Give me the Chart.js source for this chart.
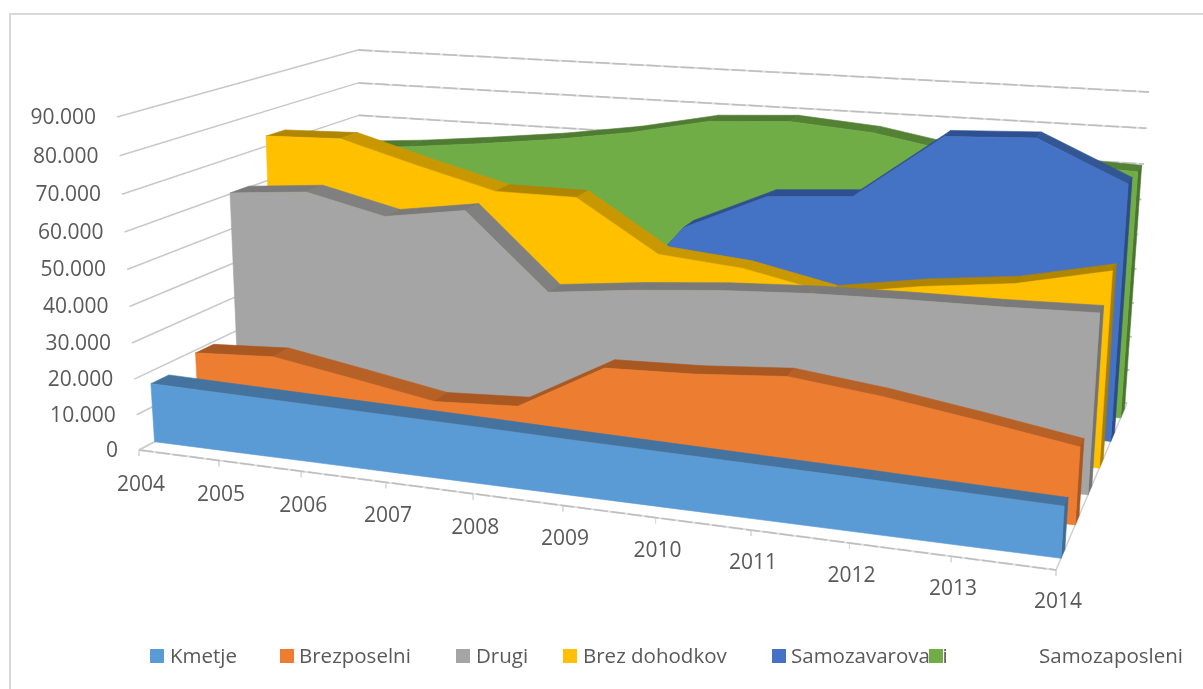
<!DOCTYPE html>
<html>
<head>
<meta charset="utf-8">
<title>Zavarovanci</title>
<script src="https://cdn.jsdelivr.net/npm/chart.js"></script>
<style>
    html, body { margin: 0; padding: 0; background: #fff; }
    #wrap { position: relative; width: 1203px; height: 689px; }
</style>
</head>
<body>
<div id="wrap"><canvas id="myChart" width="1203" height="689"></canvas></div>
<script>
// Data
const categories = ["2004","2005","2006","2007","2008","2009","2010","2011","2012","2013","2014"];
const yTicks = [0,10000,20000,30000,40000,50000,60000,70000,80000,90000];
const yTickLabels = ["0","10.000","20.000","30.000","40.000","50.000","60.000","70.000","80.000","90.000"];
const seriesNames = ["Kmetje","Brezposelni","Drugi","Brez dohodkov","Samozavarovani","Samozaposleni"];

const kmetje = [16600,16300,16000,15700,15400,15000,14700,14400,14100,13700,13300];
const brezposelni = [19200,20600,16900,13000,14400,27600,28600,30600,28000,24400,20500];
const drugi = [60300,62400,57400,61000,40300,43100,45300,46700,47400,47800,48600];
const brezDohodkov = [72900,73700,67700,62100,62200,48100,46200,41400,45500,48500,54100];
const samozavarovani = [21000,21500,22000,22500,22600,50700,61400,63200,81400,82600,72000];
const samozaposleni = [62200,64000,66400,69100,72600,77300,78700,77000,72900,71600,70800];

// Colours: front, top going down, top going up, end of each ribbon
const frontColors = ["#5B9BD5","#ED7D31","#A5A5A5","#FFC000","#4472C4","#70AD47"];
const topColors = ["#44739F","#B86126","#808080","#C99800","#335694","#548235"];
const topUpColors = ["#44739F","#A85820","#7A7A7A","#B08500","#2F5090","#4F7B32"];
const sideColors = ["#3F6C95","#A85820","#737373","#A87F00","#2C4C85","#4A7530"];

// Where each ribbon starts in the depth of the box (0 front, 1 back), and how deep it is
const depthFront = [0.07,0.27,0.45,0.61,0.77,0.91];
const thickLeft = 0.08, thickRight = 0.055;

// The box corners on the page
const floorFL = [139,450], floorFR = [1056,570], floorBL = [361,332], floorBR = [1127,403];
const ceilFL = [117,117], ceilFR = [1079,196], ceilBL = [358,50], ceilBR = [1149,92];

const yMax = 90000;

// perspective squeeze along an edge
function warp(t, k) {
    return t * (1 + k) / (1 + k * t);
}
function mix(a, b, t) {
    return [a[0] + (b[0] - a[0]) * t, a[1] + (b[1] - a[1]) * t];
}
// category index + value + depth --> point on the page
function project(i, value, depth) {
    var u = warp(i / (categories.length - 1), -0.14);
    var t = warp(value / yMax, -0.053);
    var floorPoint = mix(mix(floorFL, floorFR, u), mix(floorBL, floorBR, u), depth);
    var ceilPoint = mix(mix(ceilFL, ceilFR, u), mix(ceilBL, ceilBR, u), depth);
    var p = mix(floorPoint, ceilPoint, t);
    return { x: p[0], y: p[1] };
}
// back edge of a ribbon gets thinner to the right
function depthBack(s, i) {
    return depthFront[s] + thickLeft + (thickRight - thickLeft) * i / (categories.length - 1);
}

function face(points, color) {
    points.push(points[0]);
    return {
        data: points,
        showLine: true,
        fill: "shape",
        tension: 0,
        pointRadius: 0,
        borderWidth: 0.6,
        borderColor: color,
        backgroundColor: color
    };
}
function wire(points, width, color, dash) {
    return {
        data: points,
        showLine: true,
        fill: false,
        tension: 0,
        pointRadius: 0,
        borderWidth: width,
        borderColor: color,
        borderDash: dash || []
    };
}

const allSeries = [kmetje, brezposelni, drugi, brezDohodkov, samozavarovani, samozaposleni];
const last = categories.length - 1;
var datasets = [];

// first dataset ends up on top, so front ribbon goes in first
allSeries.forEach(function (values, s) {
    var front = [];
    values.forEach(function (v, i) {
        front.push(project(i, v, depthFront[s]));
    });
    for (var i = last; i >= 0; i--) {
        front.push(project(i, 0, depthFront[s]));
    }
    datasets.push(face(front, frontColors[s]));

    datasets.push(face([
        project(last, values[last], depthFront[s]),
        project(last, values[last], depthBack(s, last)),
        project(last, 0, depthBack(s, last)),
        project(last, 0, depthFront[s])
    ], sideColors[s]));

    // top of the ribbon, one strip per year
    for (var j = last - 1; j >= 0; j--) {
        datasets.push(face([
            project(j, values[j], depthFront[s]),
            project(j + 1, values[j + 1], depthFront[s]),
            project(j + 1, values[j + 1], depthBack(s, j + 1)),
            project(j, values[j], depthBack(s, j))
        ], values[j + 1] > values[j] ? topUpColors[s] : topColors[s]));
    }
});

// floor edges and category tick marks
datasets.push(wire([project(0, 0, 0), project(last, 0, 0)], 1.5, "#BDBDBD", [14, 3]));
datasets.push(wire([project(0, 0, 0), project(last, 0, 0)], 2, "#E0E0E0"));
datasets.push(wire([project(last, 0, 0), project(last, 0, 1)], 1.5, "#CFCFCF"));
datasets.push(wire([project(0, 0, 0), project(0, 0, 0.08)], 1.5, "#CFCFCF"));
categories.forEach(function (c, i) {
    var p = project(i, 0, 0);
    datasets.push(wire([p, { x: p.x, y: p.y + 6 }], 1, "#D9D9D9"));
});

// gridlines on left and back wall, the back ones sit on a paler line
yTicks.forEach(function (v) {
    datasets.push(wire([project(0, v, 0), project(0, v, 1)], 1.5, "#C8C8C8"));
    datasets.push(wire([project(0, v, 1), project(last, v, 1)], 1.5, "#BDBDBD", [14, 3]));
    datasets.push(wire([project(0, v, 1), project(last, v, 1)], 2, "#E0E0E0"));
});

const textColor = "#595959";
const legendSquareX = [150,280,456,563,772,929];
const legendTextX = [170,299,476,583,791,1039];

const labelsPlugin = {
    id: "flatLabels",
    beforeDraw: function (chart) {
        // only the top and left edge of the chart frame are on the page
        var ctx = chart.ctx;
        ctx.save();
        ctx.fillStyle = "#D9D9D9";
        ctx.fillRect(9, 13, 1194, 2);
        ctx.fillRect(9, 13, 2, 676);
        ctx.restore();
    },
    afterDraw: function (chart) {
        var ctx = chart.ctx;
        ctx.save();
        ctx.fillStyle = textColor;
        ctx.textBaseline = "middle";
        ctx.font = "21px 'Open Sans'";

        ctx.textAlign = "right";
        yTickLabels.forEach(function (label, n) {
            var p = project(0, yTicks[n], 0);
            ctx.fillText(label, p.x - 21, p.y + 1);
        });

        ctx.textAlign = "center";
        categories.forEach(function (label, i) {
            var p = project(i, 0, 0);
            ctx.fillText(label, p.x + 2, p.y + 35 - 3 * i / last);
        });

        ctx.textAlign = "left";
        ctx.font = "20.5px 'Open Sans'";
        seriesNames.forEach(function (name, s) {
            ctx.fillStyle = textColor;
            ctx.fillText(name, legendTextX[s], 657);
            ctx.fillStyle = frontColors[s];
            ctx.fillRect(legendSquareX[s], 649, 14, 14);
        });
        ctx.restore();
    }
};

new Chart(document.getElementById("myChart"), {
    type: "scatter",
    data: { datasets: datasets },
    plugins: [labelsPlugin],
    options: {
        responsive: false,
        animation: false,
        events: [],
        layout: { padding: 0 },
        plugins: { legend: { display: false }, tooltip: { enabled: false } },
        scales: {
            x: { type: "linear", min: 0, max: 1203, display: false },
            y: { type: "linear", min: 0, max: 689, reverse: true, display: false }
        }
    }
});
</script>
</body>
</html>
